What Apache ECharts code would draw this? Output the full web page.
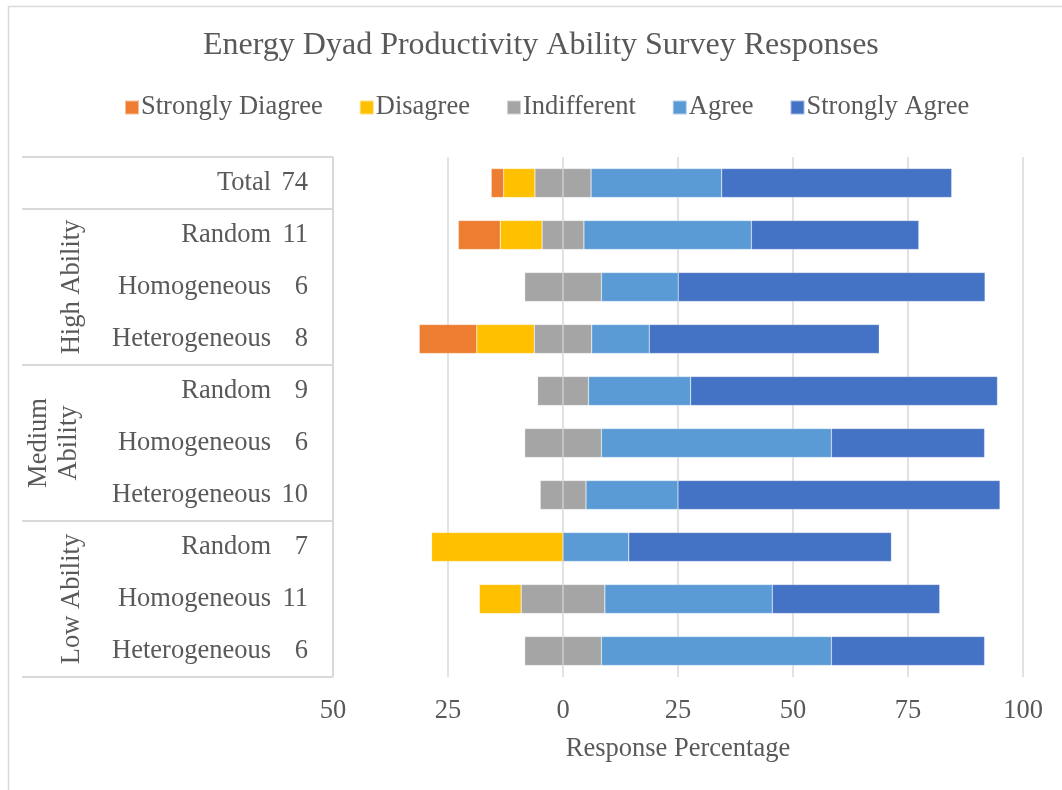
<!DOCTYPE html>
<html><head><meta charset="utf-8">
<script src="https://cdn.jsdelivr.net/npm/echarts@6/dist/echarts.min.js"></script>
<style>html,body{margin:0;padding:0;background:#fff}#c{width:1062px;height:790px}</style>
</head><body><div id="c"></div>
<script>
var rowNames = ['Total','Random','Homogeneous','Heterogeneous','Random','Homogeneous','Heterogeneous','Random','Homogeneous','Heterogeneous'];
var rowCounts = [74,11,6,8,9,6,10,7,11,6];
var groups = [
  {label:'High Ability', from:1, to:3},
  {label:'Medium\nAbility', from:4, to:6},
  {label:'Low Ability', from:7, to:9}
];
var stronglyDisagree = [2.7,9.1,0,12.5,0,0,0,0,0,0];
var disagree        = [6.8,9.1,0,12.5,0,0,0,28.6,9.1,0];
var indifferent     = [12.2,9.1,16.7,12.5,11.1,16.7,10,0,18.2,16.7];
var agree           = [28.4,36.4,16.7,12.5,22.2,50,20,14.3,36.4,50];
var stronglyAgree   = [50,36.4,66.7,50,66.7,33.3,70,57.1,36.4,33.3];
var xTicks = {min:-50, max:100, interval:25};

(function(){
var FONT = '"Liberation Serif","Times New Roman",serif';
var TXT = '#595959';
var FS = 26.5;
var cats = rowNames.map(function(n,i){return i+'';});
var neg = function(a){return a.map(function(v){return v?-v:0;});};
var half = function(a,s){return a.map(function(v){return s*v/2;});};

var chart = echarts.init(document.getElementById('c'));
function bar(name, data, color){
  return {name:name, type:'bar', stack:'s', data:data, barWidth:29,
    itemStyle:{color:color, borderColor:'rgba(255,255,255,0.5)', borderWidth:0.5}, emphasis:{disabled:true}};
}
var option = {
  animation:false,
  backgroundColor:'#fff',
  textStyle:{fontFamily:FONT},
  title:{text:'Energy Dyad Productivity Ability Survey Responses', left:198, top:25,
    textStyle:{fontFamily:FONT, fontSize:32, fontWeight:'normal', color:TXT}},
  legend:{top:89, left:119, itemWidth:14, itemHeight:14, itemGap:36, icon:'rect',
    data:['Strongly Diagree','Disagree','Indifferent','Agree','Strongly Agree'],
    textStyle:{fontFamily:FONT, fontSize:FS, color:TXT, padding:[0,0,0,-3]}},
  grid:{left:333, right:39, top:157, bottom:113},
  xAxis:{type:'value', min:xTicks.min, max:xTicks.max, interval:xTicks.interval,
    axisLine:{show:false}, axisTick:{show:false},
    splitLine:{lineStyle:{color:'#d9d9d9', width:1.5}},
    axisLabel:{fontFamily:FONT, fontSize:FS, color:TXT, margin:21,
      formatter:function(v){return Math.abs(v)+'';}},
    name:'Response Percentage', nameLocation:'middle', nameGap:59,
    nameTextStyle:{fontFamily:FONT, fontSize:FS, color:TXT}},
  yAxis:{type:'category', inverse:true, data:cats,
    axisLine:{show:false}, axisTick:{show:false},
    axisLabel:{margin:25, formatter:function(v){var i=+v; return '{a|'+rowNames[i]+'}{b|'+rowCounts[i]+'}';},
      rich:{a:{fontFamily:FONT, fontSize:FS, color:TXT},
            b:{fontFamily:FONT, fontSize:FS, color:TXT, width:37, align:'right'}}}},
  series:[
    bar('Indifferent', half(indifferent,-1), '#A5A5A5'),
    bar('Disagree', neg(disagree), '#FFC000'),
    bar('Strongly Diagree', neg(stronglyDisagree), '#ED7D31'),
    bar('Indifferent', half(indifferent,1), '#A5A5A5'),
    bar('Agree', agree, '#5B9BD5'),
    bar('Strongly Agree', stronglyAgree, '#4472C4')
  ]
};
chart.setOption(option);

var yc = cats.map(function(c){return chart.convertToPixel({yAxisIndex:0}, c);});
var step = yc[1]-yc[0];
var yTop = yc[0]-step/2, yBot = yc[yc.length-1]+step/2;
var xLeft = 22, xRight = chart.convertToPixel({xAxisIndex:0}, xTicks.min);
var ls = {stroke:'#d9d9d9', lineWidth:2};
var g = [];
g.push({type:'rect', shape:{x:8.5,y:6.5,width:1060,height:790}, style:{fill:null, stroke:'#d9d9d9', lineWidth:1.5}, silent:true});
var hs = [yTop, yc[1]-step/2, yc[4]-step/2, yc[7]-step/2, yBot];
hs.forEach(function(y){ g.push({type:'line', shape:{x1:xLeft,y1:y,x2:xRight,y2:y}, style:ls, silent:true}); });
g.push({type:'line', shape:{x1:xRight,y1:yTop,x2:xRight,y2:yBot}, style:ls, silent:true});
groups.forEach(function(gr){
  var cy = (yc[gr.from]+yc[gr.to])/2;
  var two = gr.label.indexOf('\n')>=0;
  g.push({type:'text', x: two?54:72, y:cy, rotation:Math.PI/2,
    style:{text:gr.label, font:FS+'px '+FONT, fill:TXT, align:'center', verticalAlign:'middle', lineHeight:30}, silent:true});
});
chart.setOption({graphic:g});
})();
</script></body></html>
